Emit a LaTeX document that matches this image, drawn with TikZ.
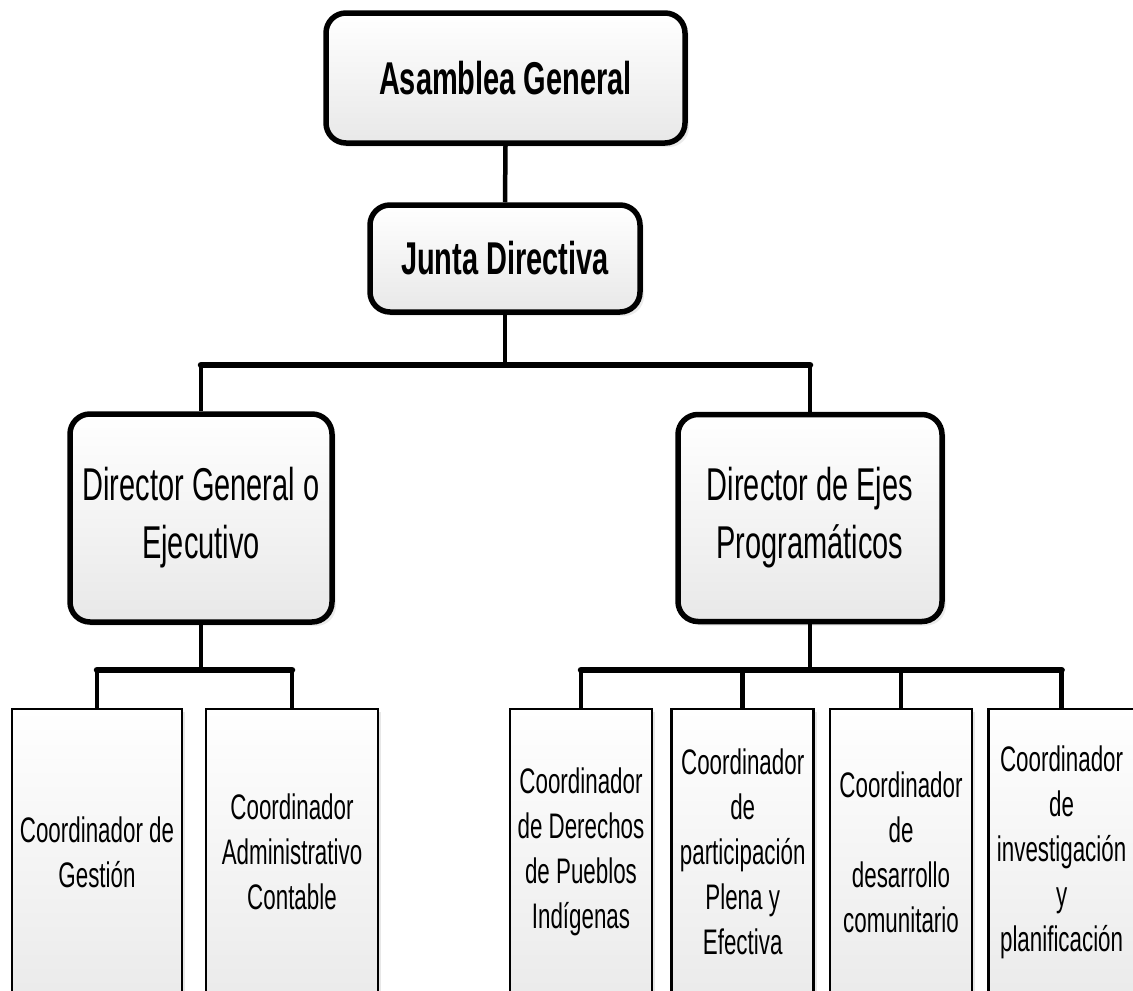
\documentclass[tikz,border=0pt]{standalone}
\usepackage{fontspec}
\newfontfamily\cf[FakeStretch=0.63]{Liberation Sans}
\usetikzlibrary{shadows}
\begin{document}
\begin{tikzpicture}[x=1pt,y=-1pt,
  topbox/.style={draw, line width=5.5pt, rounded corners=20pt,
    top color=white, bottom color=black!9,
    drop shadow={shadow xshift=4pt,shadow yshift=-4pt,fill=black!15},
    inner sep=0pt, align=center, font=\cf\fontsize{46}{58}\selectfont},
  boldtext/.style={font=\cf\bfseries\fontsize{46}{58}\selectfont},
  lowbox/.style={draw, line width=2.5pt,
    top color=white, bottom color=black!8,
    drop shadow={shadow xshift=3pt,shadow yshift=-3pt,fill=black!18},
    minimum height=286pt, inner sep=0pt, align=center,
    font=\cf\fontsize{35.5}{45}\selectfont},
  vl/.style={line width=4.5pt},
  hl/.style={line width=6.5pt, line cap=round}]
\useasboundingbox (0,0) rectangle (1133,991);
\clip (0,0) rectangle (1133,991);
\fill[white] (0,0) rectangle (1133,991);

\node[topbox, boldtext, minimum width=359pt, minimum height=130pt] (asam) at (505.5,78) {Asamblea General};
\node[topbox, boldtext, minimum width=270pt, minimum height=107pt] (junta) at (505,258.5) {Junta Directiva};
\node[topbox, minimum width=262pt, minimum height=208pt] (dgen) at (201,518) {Director General o\\Ejecutivo};
\node[topbox, minimum width=264pt, minimum height=207pt] (deje) at (810,518) {Director de Ejes\\Programáticos};

\node[lowbox, minimum width=170pt] (c1) at (97,852) {Coordinador de\\Gestión};
\node[lowbox, minimum width=172pt] (c2) at (292,852) {Coordinador\\Administrativo\\Contable};
\node[lowbox, minimum width=142pt] (c3) at (581,852) {Coordinador\\de Derechos\\de Pueblos\\Indígenas};
\node[lowbox, minimum width=142pt] (c4) at (742.7,852) {Coordinador\\de\\participación\\Plena y\\Efectiva};
\node[lowbox, minimum width=142pt] (c5) at (901,852) {Coordinador\\de\\desarrollo\\comunitario};
\node[lowbox, minimum width=146pt] (c6) at (1061.6,852) {Coordinador\\de\\investigación\\y\\planificación};

\draw[vl] (asam.south) -- (junta.north);

\coordinate (j) at (505,365);
\draw[vl] (junta.south) -- (j);
\draw[vl] (j -| dgen.north) -- (dgen.north);
\draw[vl] (j -| deje.north) -- (deje.north);
\draw[hl] (j -| dgen.north) -- (j -| deje.north);

\coordinate (d) at (201,670);
\draw[vl] (dgen.south) -- (d);
\draw[vl] (d -| c1.north) -- (c1.north);
\draw[vl] (d -| c2.north) -- (c2.north);
\draw[hl] (d -| c1.north) -- (d -| c2.north);

\coordinate (e) at (810,670);
\draw[vl] (deje.south) -- (e);
\draw[vl] (e -| c3.north) -- (c3.north);
\draw[vl] (e -| c4.north) -- (c4.north);
\draw[vl] (e -| c5.north) -- (c5.north);
\draw[vl] (e -| c6.north) -- (c6.north);
\draw[hl] (e -| c3.north) -- (e -| c6.north);
\end{tikzpicture}
\end{document}
